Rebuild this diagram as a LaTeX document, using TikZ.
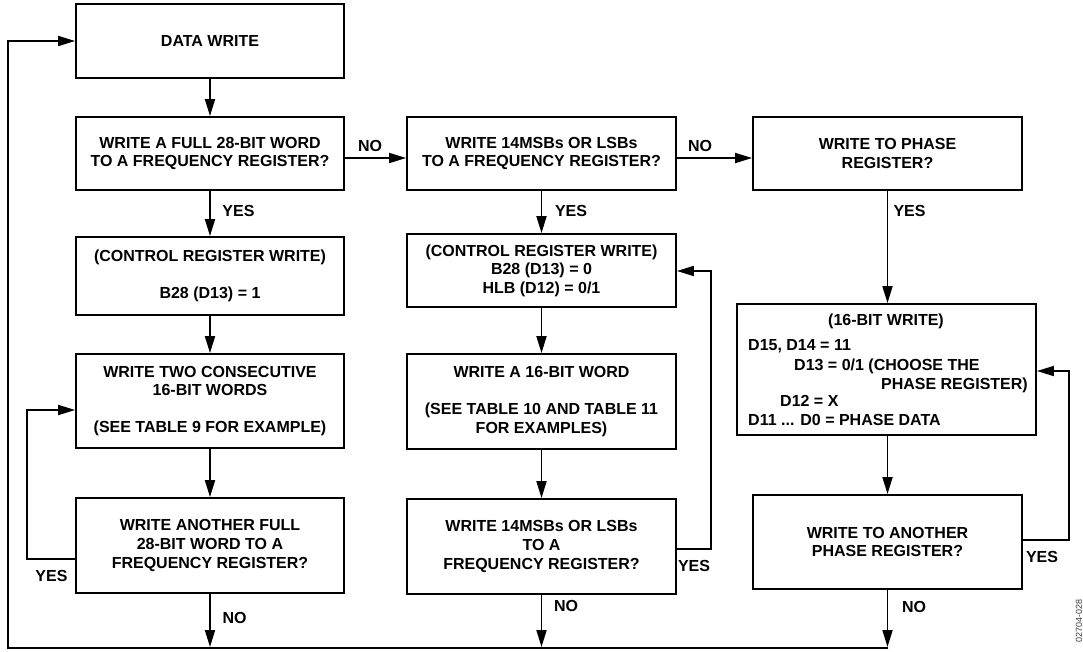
\documentclass[tikz,border=0pt]{standalone}
\usepackage{fontspec}
\setmainfont{Liberation Sans}
\usetikzlibrary{arrows.meta}
\begin{document}
\begin{tikzpicture}[x=1pt,y=-1pt,
  box/.style={draw,line width=1.8pt,inner sep=0pt,align=center,
    font=\fontsize{16}{18.6}\selectfont\bfseries},
  lbl/.style={inner sep=0pt,font=\fontsize{16}{18.6}\selectfont\bfseries},
  txt/.style={inner sep=0pt,font=\fontsize{16}{18.6}\selectfont\bfseries},
  conn/.style={line width=1.8pt},
  arr/.style={conn,-{Triangle[length=17pt,width=10pt]}}]
\useasboundingbox (0,0) rectangle (1083,651);
% left column
\node[box,minimum width=268pt,minimum height=74pt] (d1) at (210,41) {DATA WRITE};
\node[box,minimum width=268pt,minimum height=73pt] (b2) at (210,153.5) {WRITE A FULL 28-BIT WORD\\TO A FREQUENCY REGISTER?};
\node[box,minimum width=268pt,minimum height=78pt] (b3) at (210,276) {(CONTROL REGISTER WRITE)\\[18.6pt]B28 (D13) = 1};
\node[box,minimum width=268pt,minimum height=94pt] (b4) at (210,401) {WRITE TWO CONSECUTIVE\\16-BIT WORDS\\[18.6pt](SEE TABLE 9 FOR EXAMPLE)};
\node[box,minimum width=268pt,minimum height=95pt] (b5) at (210,545.5) {WRITE ANOTHER FULL\\28-BIT WORD TO A\\FREQUENCY REGISTER?};
% middle column
\node[box,minimum width=269pt,minimum height=73pt] (m2) at (541.5,153.5) {WRITE 14MSBs OR LSBs\\TO A FREQUENCY REGISTER?};
\node[box,minimum width=269pt,minimum height=73pt] (m3) at (541.5,270.5) {(CONTROL REGISTER WRITE)\\B28 (D13) = 0\\HLB (D12) = 0/1};
\node[box,minimum width=269pt,minimum height=95pt] (m4) at (541.5,401.5) {WRITE A 16-BIT WORD\\[18.6pt](SEE TABLE 10 AND TABLE 11\\FOR EXAMPLES)};
\node[box,minimum width=269pt,minimum height=95pt] (m5) at (541.5,546.5) {WRITE 14MSBs OR LSBs\\TO A\\FREQUENCY REGISTER?};
% right column
\node[box,minimum width=269pt,minimum height=73pt] (p1) at (887.5,153.5) {WRITE TO PHASE\\REGISTER?};
\node[box,minimum width=299pt,minimum height=131pt] (p2) at (886.5,369.5) {};
\node[box,minimum width=269pt,minimum height=94pt] (p3) at (887.5,542) {WRITE TO ANOTHER\\PHASE REGISTER?};
% 16-bit write text
\node[txt,anchor=base] (t1) at (886,325.7) {(16-BIT WRITE)};
\node[txt,anchor=base west] (t2) at (748,350.7) {D15, D14 = 11};
\node[txt,anchor=base west] (t3) at (794,370.2) {D13 = 0/1 (CHOOSE THE};
\node[txt,anchor=base east] (t4) at (1028,389.7) {PHASE REGISTER)};
\node[txt,anchor=base west] (t5) at (780,406.7) {D12 = X};
\node[txt,anchor=base west] (t6) at (748,425.7) {D11 ... D0 = PHASE DATA};
% labels
\node[lbl] (n1) at (370,146) {NO};
\node[lbl] (n2) at (700,146) {NO};
\node[lbl] (y1) at (238.5,211) {YES};
\node[lbl] (y2) at (571,211) {YES};
\node[lbl] (y3) at (909.5,211) {YES};
\node[lbl] (y4) at (51.5,576) {YES};
\node[lbl] (y5) at (694,566) {YES};
\node[lbl] (y6) at (1042,557) {YES};
\node[lbl] (n3) at (234.5,618) {NO};
\node[lbl] (n4) at (566,606) {NO};
\node[lbl] (n5) at (914,607) {NO};
\node[inner sep=0pt,rotate=90,text=black!75,font=\fontsize{9}{10}\selectfont] (fig) at (1079,621) {02704-028};
% coordinates
\coordinate (jb) at (210,647);
\coordinate (jm) at (541.5,647);
\coordinate (jp) at (887.5,647);
\coordinate (cl) at (8,648);
\coordinate (lb) at (27,559);
\coordinate (lm) at (711,549);
\coordinate (lp) at (1069,540);
% connectors
\draw[arr] (d1) -- (b2);
\draw[arr] (b2) -- (b3);
\draw[arr] (b3) -- (b4);
\draw[arr] (b4) -- (b5);
\draw[arr] (m2) -- (m3);
\draw[arr] (m3) -- (m4);
\draw[arr] (m4) -- (m5);
\draw[arr] (p1.south) -- (p1.south |- p2.north);
\draw[arr] (p2.south -| p3.north) -- (p3.north);
\draw[arr] ([yshift=-4.5pt]b2.east) -- ([yshift=-4.5pt]m2.west);
\draw[arr] ([yshift=-4.5pt]m2.east) -- ([yshift=-4.5pt]p1.west);
\draw[arr] (b5.west |- lb) -- (lb) |- ([yshift=-9pt]b4.west);
\draw[arr] (m5.east |- lm) -- (lm) |- ([yshift=-0.5pt]m3.east);
\draw[arr] (p3.east |- lp) -- (lp) |- ([yshift=-1.5pt]p2.east);
\draw[arr] (b5) -- (jb);
\draw[arr] (m5) -- (jm);
\draw[arr] (p3) -- (jp);
\draw[conn] ([xshift=0.9pt]jp |- cl) -- (cl) -- (cl |- d1.west);
\draw[arr] ([xshift=-0.9pt]cl |- d1.west) -- (d1.west);
\end{tikzpicture}
\end{document}
